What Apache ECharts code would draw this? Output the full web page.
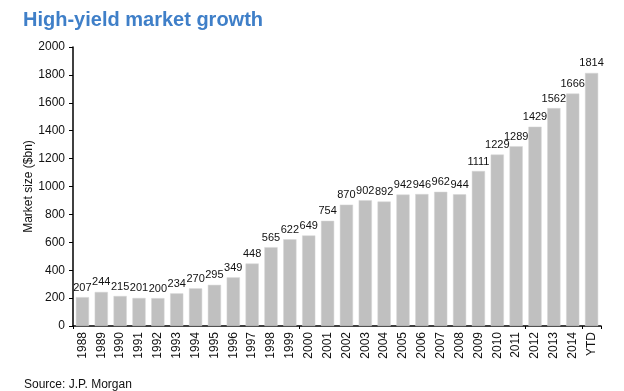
<!DOCTYPE html>
<html>
<head>
<meta charset="utf-8">
<script src="https://cdn.jsdelivr.net/npm/echarts@6/dist/echarts.min.js"></script>
<style>html,body{margin:0;padding:0;background:#fff;}#c{width:624px;height:391px;}</style>
</head>
<body>
<div id="c"></div>
<script>
var categories = ['1988','1989','1990','1991','1992','1993','1994','1995','1996','1997','1998','1999','2000','2001','2002','2003','2004','2005','2006','2007','2008','2009','2010','2011','2012','2013','2014','YTD'];
var marketSize = [207,244,215,201,200,234,270,295,349,448,565,622,649,754,870,902,892,942,946,962,944,1111,1229,1289,1429,1562,1666,1814];
var yTicks = {min: 0, max: 2000, interval: 200};
var titleText = 'High-yield market growth';
var sourceText = 'Source: J.P. Morgan';
var yName = 'Market size ($bn)';

var chart = echarts.init(document.getElementById('c'));
chart.setOption({
  animation: false,
  backgroundColor: '#fff',
  title: [
    {text: titleText, left: 18, top: 5, textStyle: {fontFamily: 'Liberation Sans, Arial', fontSize: 20, fontWeight: 'bold', color: '#3F7FC8'}},
    {text: sourceText, left: 19, top: 374, textStyle: {fontFamily: 'Liberation Sans, Arial', fontSize: 12, fontWeight: 'normal', color: '#111'}}
  ],
  grid: {left: 73, right: 23, top: 47, bottom: 65},
  xAxis: {
    type: 'category',
    data: categories,
    axisLine: {lineStyle: {color: '#000', width: 1.5}},
    axisTick: {show: true, interval: 11, length: 3, lineStyle: {color: '#000'}},
    axisLabel: {rotate: 90, interval: 0, fontFamily: 'Liberation Sans, Arial', fontSize: 12, color: '#111', margin: 6}
  },
  yAxis: {
    type: 'value',
    min: yTicks.min, max: yTicks.max, interval: yTicks.interval,
    name: yName,
    nameLocation: 'middle',
    nameGap: 38,
    nameMoveOverlap: false,
    nameTextStyle: {fontFamily: 'Liberation Sans, Arial', fontSize: 12, color: '#111'},
    axisLine: {show: true, lineStyle: {color: '#000', width: 1.5}},
    axisTick: {show: true, length: 4, lineStyle: {color: '#000'}},
    splitLine: {show: false},
    axisLabel: {fontFamily: 'Liberation Sans, Arial', fontSize: 12, color: '#111', margin: 8, formatter: function (v) { return String(v); }}
  },
  series: [{
    type: 'bar',
    data: marketSize,
    barCategoryGap: '30%',
    itemStyle: {color: '#C0C0C0', borderColor: '#D6D6D6', borderWidth: 0.5},
    label: {show: true, position: 'top', distance: 4, fontFamily: 'Liberation Sans, Arial', fontSize: 11, color: '#111'}
  }]
});
</script>
</body>
</html>
